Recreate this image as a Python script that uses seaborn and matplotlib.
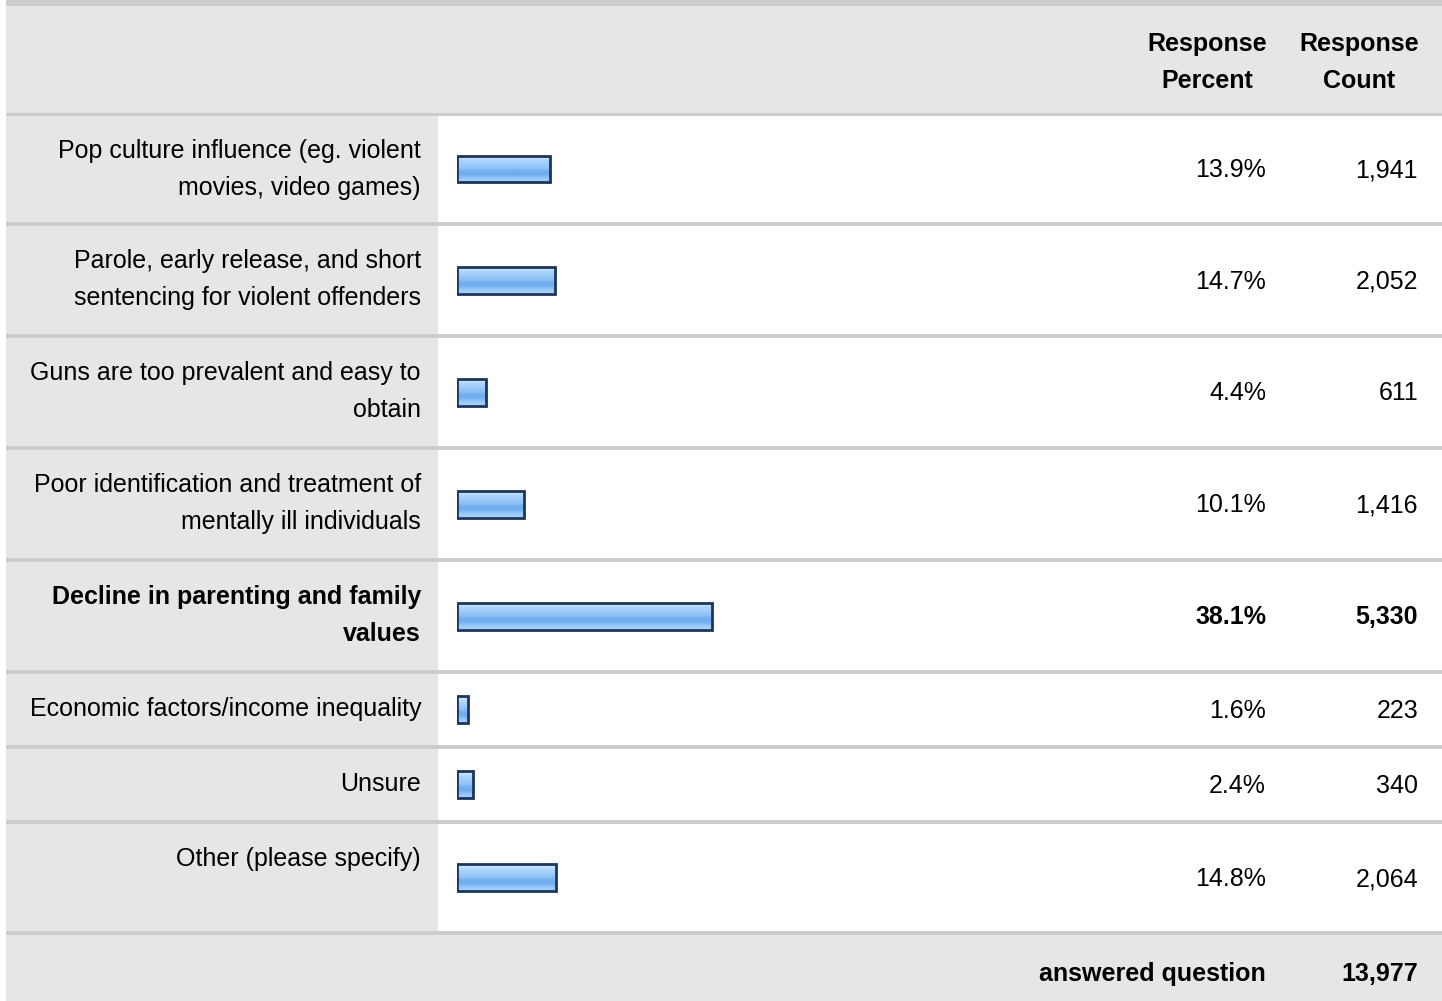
import numpy as np
import matplotlib.pyplot as plt
import seaborn as sns
from matplotlib.patches import Rectangle

# survey data
categories = [
    "Pop culture influence (eg. violent\nmovies, video games)",
    "Parole, early release, and short\nsentencing for violent offenders",
    "Guns are too prevalent and easy to\nobtain",
    "Poor identification and treatment of\nmentally ill individuals",
    "Decline in parenting and family\nvalues",
    "Economic factors/income inequality",
    "Unsure",
    "Other (please specify)",
]
percents = [13.9, 14.7, 4.4, 10.1, 38.1, 1.6, 2.4, 14.8]
counts = [1941, 2052, 611, 1416, 5330, 223, 340, 2064]
answered = 13977
header_pct = "Response\nPercent"
header_cnt = "Response\nCount"
footer_label = "answered question"

# layout in pixels
W, H = 1442, 1001
row_heights = [106, 108, 108, 108, 108, 71, 71, 107]
sep = 4
header_top, header_bottom = 6, 113
label_right = 438
bar_left, px_per_pct = 457, 6.68
pct_right, cnt_right = 1266, 1418

GREY = "#e6e6e6"
LINE = "#cccccc"
EDGE = "#1c355a"
grad_colors = ['#d2e8fe', '#c6e2fe', '#acd5fd', '#a6d1fc', '#a0cdfb', '#97c7f9',
               '#8cc1f7', '#76b0ef', '#70acee', '#73aeef', '#88bef6', '#9acafa', '#a3cffb']

sns.set_style("white")
plt.rcParams['font.family'] = ['Liberation Sans', 'DejaVu Sans']
FS = 18

fig = plt.figure(figsize=(W / 100, H / 100), dpi=100)


def box(x0, y0, x1, y1, color):
    fig.add_artist(Rectangle((x0 / W, 1 - y1 / H), (x1 - x0) / W, (y1 - y0) / H,
                             transform=fig.transFigure, facecolor=color,
                             edgecolor='none', zorder=0))


def txt(x, y, s, ha='right', bold=False):
    fig.text(x / W, 1 - y / H, s, ha=ha, va='baseline', fontsize=FS,
             fontweight='bold' if bold else 'normal', color='black')


# header
box(6, 0, W, header_top, LINE)
box(6, header_top, W, header_bottom, GREY)
box(6, header_bottom, W, header_bottom + 3, LINE)
for k, (a, b) in enumerate(zip(header_pct.split("\n"), header_cnt.split("\n"))):
    txt(1207, 51 + 37 * k, a, ha='center', bold=True)
    txt(1359, 51 + 37 * k, b, ha='center', bold=True)

gradient = np.array([plt.matplotlib.colors.to_rgb(c) for c in grad_colors])[:, None, :]
top_idx = int(np.argmax(percents))

y = header_bottom + 3
for i, (cat, pct, cnt) in enumerate(zip(categories, percents, counts)):
    h = row_heights[i]
    box(6, y, label_right, y + h, GREY)
    box(6, y + h, W, y + h + sep, LINE)
    bold = i == top_idx

    for k, line in enumerate(cat.split("\n")):
        txt(421, y + 42 + 37 * k, line, bold=bold)
    mid = y + h / 2
    txt(pct_right, mid + 8.5, f"{pct:.1f}%", bold=bold)
    txt(cnt_right, mid + 8.5, f"{cnt:,}", bold=bold)

    ax = fig.add_axes([bar_left / W, 1 - (y + h) / H, 100 * px_per_pct / W, h / H])
    sns.barplot(x=[pct], y=[cat], orient='h', ax=ax, width=27 / h,
                color=grad_colors[6], edgecolor=EDGE, linewidth=2)
    for p in ax.patches:
        x0, y0, bw, bh = p.get_x(), p.get_y(), p.get_width(), p.get_height()
        p.set_facecolor('none')
        p.set_zorder(3)
        im = ax.imshow(gradient, extent=(x0, x0 + bw, y0 + bh, y0), aspect='auto',
                       interpolation='bilinear', zorder=2)
        im.set_clip_path(p)
    ax.set_xlim(0, 100)
    ax.set_ylim(0.5, -0.5)
    ax.set_axis_off()
    ax.patch.set_alpha(0)
    y += h + sep

# footer
box(6, y, W, H, GREY)
txt(pct_right, y + 46, footer_label, bold=True)
txt(cnt_right, y + 46, f"{answered:,}", bold=True)

fig.savefig("out.png", dpi=100, facecolor='white')
